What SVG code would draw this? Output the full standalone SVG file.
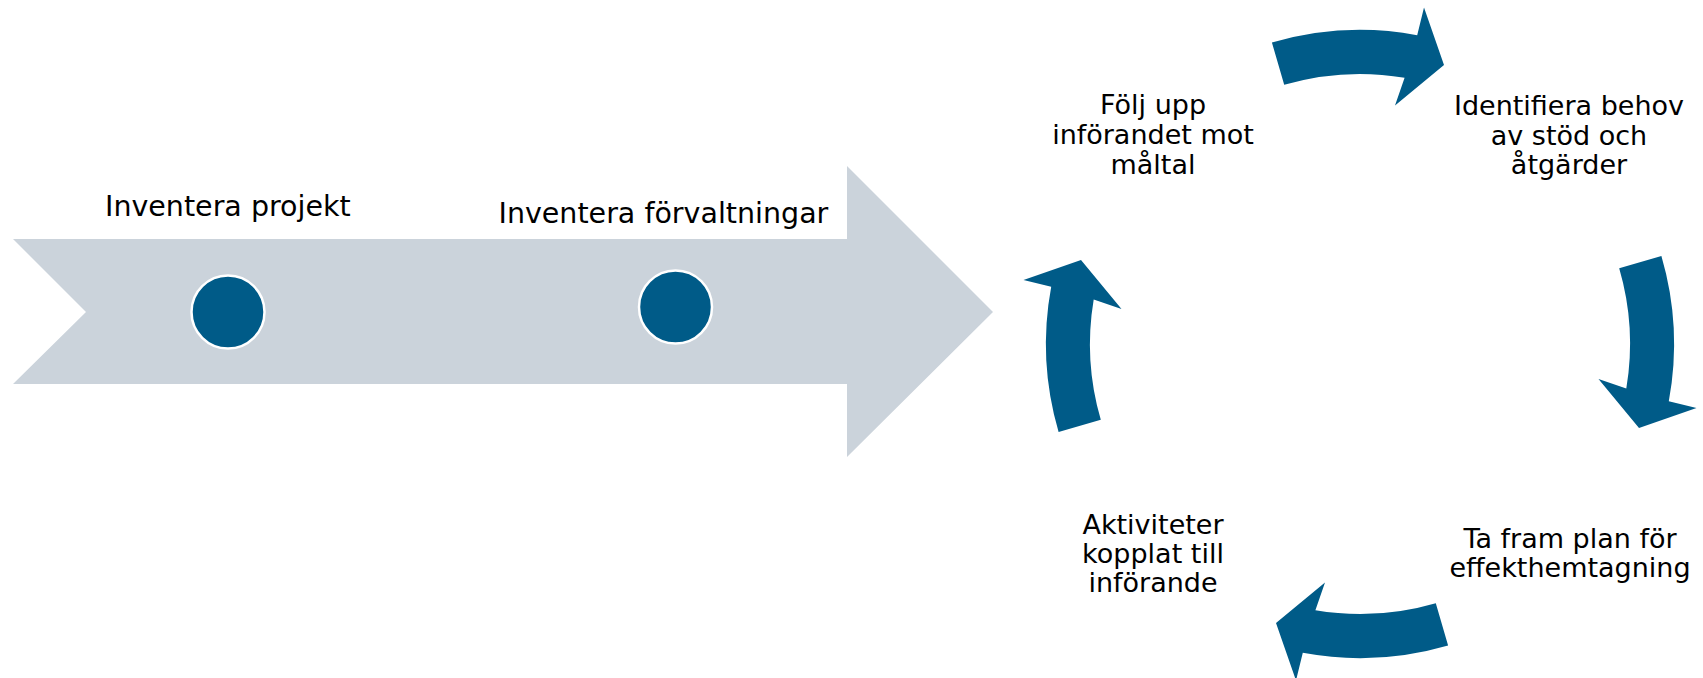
<svg xmlns="http://www.w3.org/2000/svg" width="1703" height="678" viewBox="0 0 1703 678">
<style>
.lbl{font-family:"DejaVu Sans","Verdana",sans-serif;fill:#000}
.big{font-size:28.5px}
.cyc{font-size:27px;text-anchor:middle}
.dot{fill:#005b88;stroke:#fff;stroke-width:2.5}
.carrow{fill:#005b88}
</style>
<defs>
<path id="arc" d="M1271.9,42.6 A314,314 0 0 1 1417.2,35.2 L1424,7.5 L1444,65 L1395,105.5 L1404.6,77.7 A270,270 0 0 0 1284.2,84.8 Z"/>
</defs>
<g id="timeline">
<polygon points="13,239 847,239 847,166 993,312 847,457 847,384 13,384 86,312" fill="#cbd3db"/>
<circle class="dot" cx="228" cy="312" r="36.5"/>
<circle class="dot" cx="675.5" cy="307" r="36.5"/>
</g>
<g id="label-projekt"><text class="lbl big" x="105" y="216">Inventera projekt</text></g>
<g id="label-forvaltningar"><text class="lbl big" x="498.5" y="223">Inventera förvaltningar</text></g>
<g id="connectors">
<use href="#arc" class="carrow"/>
<use href="#arc" class="carrow" transform="rotate(90 1360 344)"/>
<use href="#arc" class="carrow" transform="rotate(180 1360 344)"/>
<use href="#arc" class="carrow" transform="rotate(270 1360 344)"/>
</g>
<g id="node-folj"><text class="lbl cyc" x="1153"><tspan x="1153" y="114">Följ upp</tspan><tspan x="1153" y="144">införandet mot</tspan><tspan x="1153" y="174">måltal</tspan></text></g>
<g id="node-identifiera"><text class="lbl cyc" x="1569"><tspan x="1569" y="115">Identifiera behov</tspan><tspan x="1569" y="144.5">av stöd och</tspan><tspan x="1569" y="174">åtgärder</tspan></text></g>
<g id="node-plan"><text class="lbl cyc" x="1570"><tspan x="1570" y="548">Ta fram plan för</tspan><tspan x="1570" y="577">effekthemtagning</tspan></text></g>
<g id="node-aktiviteter"><text class="lbl cyc" x="1153"><tspan x="1153" y="534">Aktiviteter</tspan><tspan x="1153" y="563">kopplat till</tspan><tspan x="1153" y="592">införande</tspan></text></g>
</svg>
